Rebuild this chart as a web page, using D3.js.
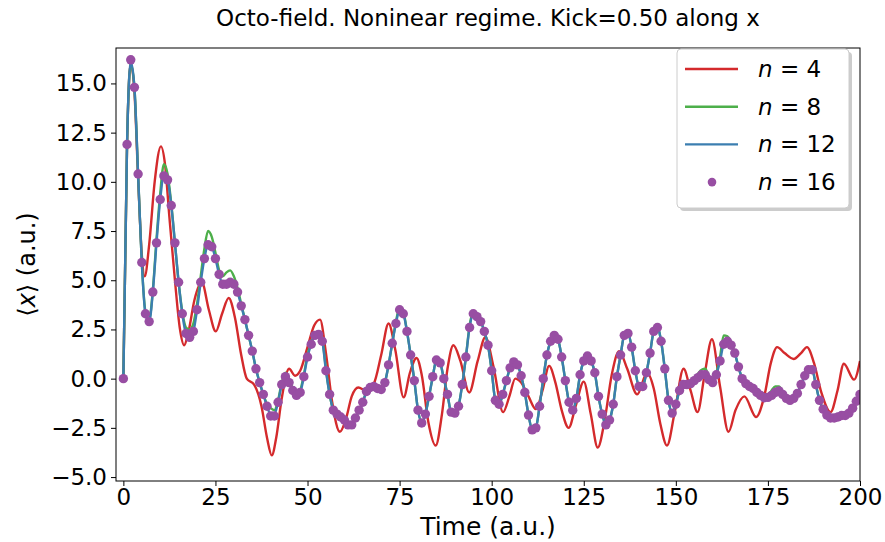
<!DOCTYPE html>
<html>
<head>
<meta charset="utf-8">
<script src="https://cdn.jsdelivr.net/npm/d3@7"></script>
<style>
    body { margin: 0; background: #ffffff; }
    text { font-family: "DejaVu Sans", sans-serif; fill: #000000; }
</style>
</head>
<body>
<svg id="chart" width="885" height="542"></svg>
<script>
// chart text
const title = "Octo-field. Noninear regime. Kick=0.50 along x"
const xLabel = "Time (a.u.)"

// tick values
const xTicks = [0, 25, 50, 75, 100, 125, 150, 175, 200]
const yTicks = [-5, -2.5, 0, 2.5, 5, 7.5, 10, 12.5, 15]

// legend entries
const seriesN = ["4", "8", "12", "16"]

// sampling times of the n = 8, 12, 16 runs (one per time unit)
const time = d3.range(0, 201)

// n = 16 (dots)
const n16 = [
    0, 11.9, 16.2, 14.8, 10.4, 5.9, 3.3, 2.9, 4.4, 6.9,
    9.1, 10.3, 10.1, 8.8, 6.9, 4.9, 3.3, 2.3, 2.1, 2.4,
    3.5, 4.9, 6.1, 6.8, 6.7, 6.1, 5.3, 4.8, 4.8, 4.9,
    4.8, 4.4, 3.7, 3.0, 2.2, 1.4, 0.5, -0.2, -0.8, -1.4,
    -1.9, -1.9, -1.2, -0.3, 0.1, -0.2, -0.6, -0.85, -0.7, 0.1,
    1.1, 1.75, 2.2, 2.25, 1.9, 0.4, -0.8, -1.6, -1.8, -1.95,
    -2.1, -2.35, -2.35, -2.0, -1.6, -1.2, -0.65, -0.45, -0.4, -0.5,
    -0.55, -0.2, 0.7, 1.8, 2.8, 3.5, 3.3, 2.4, 1.2, -0.1,
    -1.6, -2.25, -1.8, -0.9, 0.1, 0.95, 0.8, 0.0, -0.8, -1.7,
    -1.75, -1.4, -0.3, 1.1, 2.6, 3.3, 3.15, 2.9, 2.4, 1.7,
    0.4, -1.1, -1.3, -0.8, -0.1, 0.55, 0.85, 0.7, 0.15, -0.7,
    -1.85, -2.6, -2.5, -1.4, 0.0, 1.2, 1.9, 2.2, 2.0, 1.1,
    -0.1, -1.2, -1.6, -1.0, 0.2, 0.9, 1.15, 0.9, 0.3, -0.9,
    -1.8, -2.35, -2.1, -1.3, 0.1, 1.2, 2.2, 2.3, 1.6, 0.4,
    -0.4, -0.4, 0.3, 1.3, 2.4, 2.6, 1.9, 0.5, -1.1, -1.75,
    -1.3, -0.6, -0.3, -0.3, -0.25, -0.1, 0.05, 0.2, 0.2, -0.05,
    -0.2, 0.2, 0.9, 1.75, 1.9, 1.7, 1.3, 0.6, 0.0, -0.25,
    -0.4, -0.5, -0.7, -0.85, -0.97, -0.95, -0.85, -0.7, -0.62, -0.8,
    -1.0, -1.1, -1.0, -0.75, -0.3, 0.15, 0.45, 0.45, -0.3, -1.1,
    -1.55, -1.85, -2.0, -2.0, -1.95, -1.87, -1.87, -1.75, -1.5, -1.15,
    -0.8
]

// n = 12 (blue line)
const n12 = [
    0, 11.9, 16.1, 14.8, 10.4, 5.9, 3.3, 2.9, 4.4, 6.9,
    9.1, 10.3, 10.1, 8.8, 6.9, 4.9, 3.3, 2.3, 2.1, 2.4,
    3.5, 4.9, 6.1, 6.8, 6.7, 6.1, 5.3, 4.8, 4.8, 4.9,
    4.8, 4.4, 3.7, 3.0, 2.2, 1.4, 0.5, -0.2, -0.8, -1.4,
    -1.8, -1.8, -1.2, -0.3, 0.1, -0.2, -0.6, -0.85, -0.7, 0.1,
    1.1, 1.75, 2.2, 2.25, 1.9, 0.4, -0.8, -1.6, -1.8, -1.95,
    -2.1, -2.35, -2.35, -2.0, -1.6, -1.2, -0.65, -0.45, -0.4, -0.5,
    -0.55, -0.2, 0.7, 1.8, 2.8, 3.5, 3.3, 2.4, 1.2, -0.1,
    -1.6, -2.25, -1.8, -0.9, 0.1, 0.95, 0.8, 0.0, -0.8, -1.7,
    -1.75, -1.4, -0.3, 1.1, 2.6, 3.3, 3.15, 2.9, 2.4, 1.7,
    0.4, -1.1, -1.3, -0.8, -0.1, 0.55, 0.85, 0.7, 0.15, -0.7,
    -1.85, -2.6, -2.5, -1.4, 0.0, 1.2, 1.9, 2.2, 2.0, 1.1,
    -0.1, -1.2, -1.6, -1.0, 0.2, 0.9, 1.15, 0.9, 0.3, -0.9,
    -1.8, -2.35, -2.1, -1.3, 0.1, 1.2, 2.2, 2.3, 1.6, 0.4,
    -0.4, -0.4, 0.3, 1.3, 2.4, 2.6, 1.9, 0.5, -1.1, -1.75,
    -1.3, -0.6, -0.3, -0.3, -0.25, -0.1, 0.05, 0.2, 0.2, -0.05,
    -0.2, 0.2, 0.9, 1.75, 1.9, 1.7, 1.3, 0.6, 0.0, -0.25,
    -0.4, -0.5, -0.7, -0.85, -0.97, -0.95, -0.85, -0.7, -0.62, -0.8,
    -1.0, -1.1, -1.0, -0.75, -0.3, 0.15, 0.45, 0.45, -0.3, -1.1,
    -1.55, -1.85, -2.0, -2.0, -1.95, -1.87, -1.87, -1.75, -1.5, -1.15,
    -0.8
]

// n = 8 (green line), peeks out above the blue one at the maxima
const n8 = [
    0, 11.9, 16.0, 14.8, 10.4, 5.9, 3.4, 3.0, 4.5, 7.1,
    9.4, 10.9, 10.4, 8.9, 6.9, 4.9, 3.4, 2.6, 2.5, 2.8,
    3.8, 5.2, 6.6, 7.5, 7.2, 6.4, 5.5, 5.2, 5.4, 5.5,
    5.2, 4.6, 3.8, 3.0, 2.2, 1.4, 0.5, -0.2, -0.8, -1.3,
    -1.5, -1.6, -1.1, -0.2, 0.3, 0.0, -0.5, -0.8, -0.6, 0.2,
    1.2, 1.85, 2.3, 2.4, 2.0, 0.5, -0.8, -1.6, -1.8, -1.95,
    -2.1, -2.3, -2.3, -2.0, -1.6, -1.2, -0.65, -0.45, -0.4, -0.5,
    -0.55, -0.2, 0.7, 1.8, 2.9, 3.6, 3.4, 2.4, 1.2, -0.1,
    -1.6, -2.2, -1.8, -0.9, 0.1, 0.95, 0.8, 0.0, -0.8, -1.7,
    -1.75, -1.4, -0.3, 1.1, 2.7, 3.4, 3.3, 2.95, 2.4, 1.7,
    0.4, -1.1, -1.3, -0.8, -0.1, 0.55, 0.85, 0.7, 0.15, -0.7,
    -1.85, -2.55, -2.45, -1.4, 0.0, 1.2, 1.9, 2.2, 2.0, 1.1,
    -0.1, -1.2, -1.6, -1.0, 0.2, 0.9, 1.15, 0.9, 0.3, -0.9,
    -1.8, -2.3, -2.1, -1.3, 0.1, 1.2, 2.2, 2.3, 1.6, 0.4,
    -0.4, -0.4, 0.3, 1.3, 2.4, 2.6, 1.9, 0.5, -1.1, -1.7,
    -1.3, -0.6, -0.3, -0.3, -0.2, 0.0, 0.25, 0.45, 0.5, 0.1,
    -0.15, 0.3, 1.1, 2.2, 2.15, 1.8, 1.3, 0.6, 0.0, -0.25,
    -0.4, -0.5, -0.7, -0.85, -0.95, -0.85, -0.6, -0.4, -0.4, -0.7,
    -0.95, -1.1, -1.0, -0.75, -0.3, 0.15, 0.45, 0.45, -0.3, -1.1,
    -1.55, -1.85, -2.0, -2.0, -1.95, -1.87, -1.87, -1.75, -1.5, -1.15,
    -0.8
]

// n = 4 (red line), smooth curve read at its turning points
const redTime = [
    0, 1, 2, 3, 4, 5, 5.8, 7, 8.5, 10.2,
    11.3, 12.5, 14, 15.3, 16.5, 17.7, 19.3, 21.3, 23.2, 25.1,
    26.8, 28.6, 30.3, 32, 33.5, 35.5, 37.5, 39, 40.3, 41.5,
    43, 45, 46.6, 48, 50, 51.8, 53.4, 55, 56.7, 58.8,
    60.5, 62, 63.8, 65.8, 68, 70, 72, 73.8, 76.1, 77.8,
    79.6, 81, 82.8, 84.8, 86.5, 88, 89.6, 91.5, 93.9, 96.2,
    98.3, 100.5, 103.1, 104.8, 106.4, 108, 110, 112, 113.8, 115.6,
    117.3, 119, 120.9, 122.8, 125, 126.9, 128.8, 130.6, 132.6, 134.6,
    136.8, 139.5, 142.2, 144, 145.8, 147.6, 149.6, 152.1, 154, 155.9,
    157.8, 159.8, 162, 164.3, 166.2, 168.6, 171.8, 174, 175.8, 177.5,
    179.5, 182, 184, 185.6, 187.5, 189.5, 192, 193.9, 195.6, 198.4,
    200
]
const redValue = [
    0, 11.9, 16.0, 14.6, 10.2, 6.3, 5.2, 6.8, 10.0, 11.8,
    10.9, 8.2, 5.0, 2.6, 1.7, 2.4, 4.0, 4.9, 3.5, 2.4,
    3.3, 4.1, 3.1, 1.2, 0.0, -0.3, -1.4, -3.0, -3.9, -3.0,
    -1.0, 0.5, 0.15, 0.4, 1.6, 2.7, 3.0, 1.3, -1.2, -2.7,
    -2.0, -0.9, -0.45, -0.6, -0.25, 1.2, 2.8, 1.5, -0.95, 0.3,
    1.05, 0.2, -2.2, -3.4, -1.8, 0.5, 1.7, 0.9, -0.7, 0.9,
    2.1, 0.6, -1.7, -0.9, 0.0, -0.2, -0.9, -1.55, -0.6, 0.65,
    -0.2, -1.6, -2.5, -1.4, -0.15, -1.8, -3.5, -2.2, 0.2, 1.4,
    0.5, -0.8, 0.3, -0.5, -2.3, -3.4, -1.8, 0.5, -0.6, -1.7,
    0.2, 2.0, -0.4, -2.7, -1.6, -0.9, -1.95, -0.9, 0.8, 1.6,
    1.3, 1.0, 1.3, 1.6, 0.8, -0.7, -1.7, -0.6, 0.76, -0.05,
    0.9
]

const colors = ["#d42a2c", "#4daf4a", "#3b7eb0", "#984ea3"]

const svg = d3.select("#chart")

// plot box
const plotLeft = 116, plotRight = 860, plotTop = 48, plotBottom = 481

const x = d3.scaleLinear().domain([-2, 200]).range([plotLeft, plotRight])
const y = d3.scaleLinear().domain([-5.2, 16.8]).range([plotBottom, plotTop])

svg.append("rect")
    .attr("width", 885)
    .attr("height", 542)
    .style("fill", "#ffffff")

// title
svg.append("text")
    .attr("x", (plotLeft + plotRight) / 2)
    .attr("y", 26)
    .attr("text-anchor", "middle")
    .style("font-size", "23px")
    .text(title)

// axes
const xAxis = svg.append("g")
    .attr("transform", `translate(0,${plotBottom})`)
    .call(d3.axisBottom(x).tickValues(xTicks).tickSize(5).tickPadding(3).tickFormat(d3.format("d")))

const yAxis = svg.append("g")
    .attr("transform", `translate(${plotLeft},0)`)
    .call(d3.axisLeft(y).tickValues(yTicks).tickSize(5).tickPadding(4).tickFormat(d3.format(".1f")))

for (const g of [xAxis, yAxis]) {
    g.select(".domain").remove()
    g.selectAll("line").style("stroke", "#000").style("stroke-width", 1)
    g.selectAll("text")
        .style("font-size", "23px")
        .style("font-family", "DejaVu Sans, sans-serif")
}

// axis labels
svg.append("text")
    .attr("x", (plotLeft + plotRight) / 2)
    .attr("y", 535)
    .attr("text-anchor", "middle")
    .style("font-size", "25px")
    .text(xLabel)

// y label: <x> with an italic x, like the mathtext original
const yLab = svg.append("text")
    .attr("transform", `translate(35,${(plotTop + plotBottom) / 2}) rotate(-90)`)
    .attr("text-anchor", "middle")
    .style("font-size", "24px")

yLab.append("tspan").text("\u27E8")
yLab.append("tspan").style("font-style", "italic").text("x")
yLab.append("tspan").text("\u27E9 (a.u.)")

// data layer, clipped to the plot box
svg.append("clipPath")
    .attr("id", "clip")
    .append("rect")
        .attr("x", plotLeft)
        .attr("y", plotTop)
        .attr("width", plotRight - plotLeft)
        .attr("height", plotBottom - plotTop)

const layer = svg.append("g").attr("clip-path", "url(#clip)")

const line = d3.line()
    .x(d => x(d[0]))
    .y(d => y(d[1]))
    .curve(d3.curveMonotoneX)

const lines = [
    d3.zip(redTime, redValue),
    d3.zip(time, n8),
    d3.zip(time, n12)
]

lines.forEach((pts, i) => {
    layer.append("path")
        .attr("d", line(pts))
        .style("fill", "none")
        .style("stroke", colors[i])
        .style("stroke-width", 2.4)
        .style("stroke-linejoin", "round")
})

layer.selectAll("circle.dot")
    .data(d3.zip(time, n16))
    .join("circle")
        .attr("class", "dot")
        .attr("cx", d => x(d[0]))
        .attr("cy", d => y(d[1]))
        .attr("r", 4.7)
        .style("fill", colors[3])

// frame
svg.append("rect")
    .attr("x", plotLeft)
    .attr("y", plotTop)
    .attr("width", plotRight - plotLeft)
    .attr("height", plotBottom - plotTop)
    .style("fill", "none")
    .style("stroke", "#000")
    .style("stroke-width", 1)

// legend
const legend = svg.append("g").attr("transform", "translate(677,49)")

legend.append("rect")
    .attr("x", 3)
    .attr("y", 3)
    .attr("width", 172)
    .attr("height", 159)
    .attr("rx", 4)
    .style("fill", "#999999")
    .style("fill-opacity", 0.5)

legend.append("rect")
    .attr("width", 172)
    .attr("height", 159)
    .attr("rx", 4)
    .style("fill", "#ffffff")
    .style("stroke", "#cccccc")
    .style("stroke-width", 1)

seriesN.forEach((n, i) => {
    const row = legend.append("g").attr("transform", `translate(0,${20 + i * 37.7})`)

    if (i < 3) {
        row.append("line")
            .attr("x1", 8)
            .attr("x2", 61)
            .style("stroke", colors[i])
            .style("stroke-width", 2.4)
    } else {
        row.append("circle")
            .attr("cx", 35)
            .attr("r", 4.3)
            .style("fill", colors[i])
    }

    const label = row.append("text")
        .attr("x", 81)
        .attr("y", 8)
        .style("font-size", "23px")

    label.append("tspan").style("font-style", "italic").text("n")
    label.append("tspan").text(" = " + n)
})
</script>
</body>
</html>
